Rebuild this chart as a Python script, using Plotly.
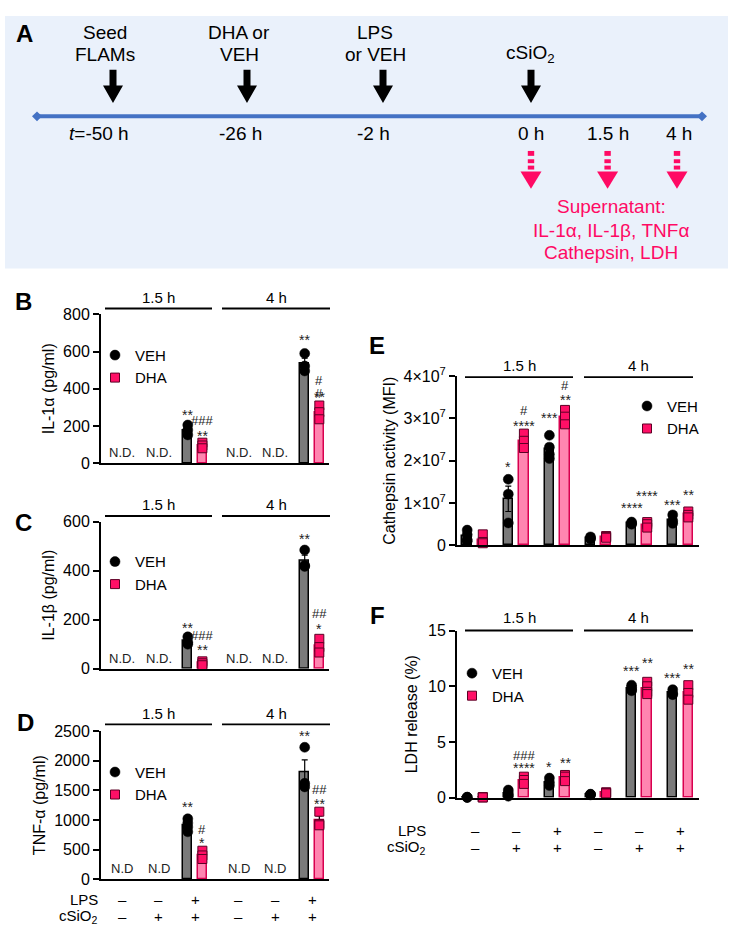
import plotly.graph_objects as go

W, H = 733, 938
FONT = "Arial, 'Liberation Sans', Helvetica, sans-serif"

# ---------------- data ----------------
lps_row = ["–", "–", "+", "–", "–", "+"]
csio2_row = ["–", "+", "+", "–", "+", "+"]
time_headers = ["1.5 h", "4 h"]

# Panel B: IL-1alpha (pg/ml); None = not detected
il1a_veh_mean = [None, None, 178, None, None, 536]
il1a_veh_sem = [None, None, 15, None, None, 28]
il1a_veh_pts = [[], [], [205, 178, 152], [], [], [590, 522, 496]]
il1a_dha_mean = [None, None, 95, None, None, 273]
il1a_dha_sem = [None, None, 9, None, None, 21]
il1a_dha_pts = [[], [], [110, 95, 80], [], [], [310, 274, 236]]
il1a_sig = [(2, "VEH", "**", 258), (2, "DHA", "###", 232), (2, "DHA", "**", 147),
            (5, "VEH", "**", 663), (5, "DHA", "#", 442), (5, "DHA", "#", 374),
            (5, "DHA", "**", 358)]

# Panel C: IL-1beta (pg/ml)
il1b_veh_mean = [None, None, 113, None, None, 442]
il1b_veh_sem = [None, None, 9, None, None, 22]
il1b_veh_pts = [[], [], [130, 108, 100], [], [], [485, 422, 418]]
il1b_dha_mean = [None, None, 22, None, None, 92]
il1b_dha_sem = [None, None, 5, None, None, 16]
il1b_dha_pts = [[], [], [30, 22, 14], [], [], [122, 88, 66]]
il1b_sig = [(2, "VEH", "**", 168), (2, "DHA", "###", 136), (2, "DHA", "**", 76),
            (5, "VEH", "**", 528), (5, "DHA", "##", 224), (5, "DHA", "*", 164)]

# Panel D: TNF-alpha (pg/ml)
tnf_veh_mean = [None, None, 912, None, None, 1803]
tnf_veh_sem = [None, None, 47, None, None, 214]
tnf_veh_pts = [[], [], [1020, 950, 880, 800], [], [], [2230, 1620, 1560]]
tnf_dha_mean = [None, None, 407, None, None, 993]
tnf_dha_sem = [None, None, 40, None, None, 74]
tnf_dha_pts = [[], [], [480, 400, 340], [], [], [1140, 930, 910]]
tnf_sig = [(2, "VEH", "**", 1225), (2, "DHA", "#", 844), (2, "DHA", "*", 612),
           (5, "VEH", "**", 2417), (5, "DHA", "##", 1523), (5, "DHA", "**", 1275)]

# Panel E: Cathepsin activity (MFI)
cath_veh_mean = [0.21e7, 1.10e7, 2.28e7, 0.17e7, 0.52e7, 0.60e7]
cath_veh_sem = [0.06e7, 0.30e7, 0.12e7, 0.02e7, 0.02e7, 0.06e7]
cath_veh_pts = [[0.36e7, 0.25e7, 0.13e7, 0.10e7], [1.56e7, 1.21e7, 0.53e7],
                [2.60e7, 2.32e7, 2.15e7, 2.05e7], [0.20e7, 0.17e7, 0.15e7],
                [0.55e7, 0.52e7, 0.50e7], [0.72e7, 0.58e7, 0.52e7]]
cath_dha_mean = [0.13e7, 2.47e7, 3.03e7, 0.20e7, 0.49e7, 0.73e7]
cath_dha_sem = [0.06e7, 0.10e7, 0.10e7, 0.02e7, 0.04e7, 0.04e7]
cath_dha_pts = [[0.26e7, 0.08e7, 0.05e7], [2.64e7, 2.47e7, 2.30e7],
                [3.20e7, 3.04e7, 2.86e7], [0.22e7, 0.20e7, 0.18e7],
                [0.55e7, 0.50e7, 0.42e7], [0.80e7, 0.72e7, 0.66e7]]
cath_sig = [(1, "VEH", "*", 1.85e7), (1, "DHA", "#", 3.19e7), (1, "DHA", "****", 2.83e7),
            (2, "VEH", "***", 3.02e7), (2, "DHA", "#", 3.78e7), (2, "DHA", "**", 3.43e7),
            (4, "VEH", "****", 0.88e7), (4, "DHA", "****", 1.16e7),
            (5, "VEH", "***", 0.96e7), (5, "DHA", "**", 1.19e7)]

# Panel F: LDH release (%)
ldh_veh_mean = [0.05, 0.40, 1.42, 0.30, 9.80, 9.43]
ldh_veh_sem = [0.01, 0.12, 0.20, 0.02, 0.10, 0.15]
ldh_veh_pts = [[0.06, 0.05, 0.04], [0.70, 0.45, 0.25, 0.15], [1.77, 1.39, 1.10],
               [0.33, 0.30, 0.27], [10.1, 9.9, 9.7, 9.6], [9.70, 9.35, 9.25]]
ldh_dha_mean = [0.05, 1.58, 1.82, 0.45, 9.80, 9.43]
ldh_dha_sem = [0.01, 0.18, 0.17, 0.03, 0.25, 0.38]
ldh_dha_pts = [[0.06, 0.05, 0.04], [1.90, 1.60, 1.25], [2.05, 1.90, 1.50],
               [0.50, 0.45, 0.40], [10.4, 10.0, 9.5, 9.3], [10.1, 9.4, 8.8]]
ldh_sig = [(1, "DHA", "###", 3.77), (1, "DHA", "****", 2.66), (2, "VEH", "*", 2.81),
           (2, "DHA", "**", 3.16), (4, "VEH", "***", 11.34), (4, "DHA", "**", 12.08),
           (5, "VEH", "***", 10.76), (5, "DHA", "**", 11.58)]

# Panel A: timeline text
event_labels = [["Seed", "FLAMs"], ["DHA or", "VEH"], ["LPS", "or VEH"], ["cSiO<sub>2</sub>"]]
time_labels = ["<i>t</i>=-50 h", "-26 h", "-2 h", "0 h", "1.5 h", "4 h"]
readout_lines = ["Supernatant:", "IL-1α, IL-1β, TNFα", "Cathepsin, LDH"]

# ---------------- styles / layout ----------------
VEH_BAR, VEH_LINE = "#7a7a7a", "#000000"
DHA_BAR, DHA_LINE = "#ff85b0", "#d8004f"
DHA_PT, DHA_PT_LINE = "#ff0f66", "#5c0025"
PINK = "#ff0a64"
BLUE = "#4472c4"


def px(x):
    return x / W


def py(y):
    return 1 - y / H


def P(x, y):
    return f"{px(x):.5f},{py(y):.5f}"


fig = go.Figure()
annotations = []
shapes = []


def ann(x, y, text, size, color="black", xref="paper", yref="paper",
        xanchor="center", yanchor="middle"):
    annotations.append(dict(x=x, y=y, xref=xref, yref=yref, text=text, showarrow=False,
                            xanchor=xanchor, yanchor=yanchor,
                            font=dict(size=size, color=color)))


pos_BCD = [0, 1, 2, 3.2, 4.2, 5.2]
pos_EF = [0, 1, 2, 3, 4, 5]

panels = [
    dict(ax="", leg="legend", pos=pos_BCD, off=0.2, w=0.24,
         vm=il1a_veh_mean, vs=il1a_veh_sem, vp=il1a_veh_pts,
         dm=il1a_dha_mean, ds=il1a_dha_sem, dp=il1a_dha_pts, sig=il1a_sig,
         nd="N.D.", nd_y=59),
    dict(ax="2", leg="legend2", pos=pos_BCD, off=0.2, w=0.24,
         vm=il1b_veh_mean, vs=il1b_veh_sem, vp=il1b_veh_pts,
         dm=il1b_dha_mean, ds=il1b_dha_sem, dp=il1b_dha_pts, sig=il1b_sig,
         nd="N.D.", nd_y=41),
    dict(ax="3", leg="legend3", pos=pos_BCD, off=0.2, w=0.24,
         vm=tnf_veh_mean, vs=tnf_veh_sem, vp=tnf_veh_pts,
         dm=tnf_dha_mean, ds=tnf_dha_sem, dp=tnf_dha_pts, sig=tnf_sig,
         nd="N.D", nd_y=182),
    dict(ax="4", leg="legend4", pos=pos_EF, off=0.19, w=0.23,
         vm=cath_veh_mean, vs=cath_veh_sem, vp=cath_veh_pts,
         dm=cath_dha_mean, ds=cath_dha_sem, dp=cath_dha_pts, sig=cath_sig,
         nd=None, nd_y=None),
    dict(ax="5", leg="legend5", pos=pos_EF, off=0.19, w=0.23,
         vm=ldh_veh_mean, vs=ldh_veh_sem, vp=ldh_veh_pts,
         dm=ldh_dha_mean, ds=ldh_dha_sem, dp=ldh_dha_pts, sig=ldh_sig,
         nd=None, nd_y=None),
]

for p in panels:
    xa, ya = "x" + p["ax"], "y" + p["ax"]
    pos, off = p["pos"], p["off"]
    for name, sign, mean, sem, bcol, lcol in [
        ("VEH", -1, p["vm"], p["vs"], VEH_BAR, VEH_LINE),
        ("DHA", 1, p["dm"], p["ds"], DHA_BAR, DHA_LINE),
    ]:
        bx = [pos[i] + sign * off for i in range(6) if mean[i] is not None]
        by = [mean[i] for i in range(6) if mean[i] is not None]
        be = [sem[i] for i in range(6) if mean[i] is not None]
        fig.add_trace(go.Bar(
            x=bx, y=by, width=p["w"], xaxis=xa, yaxis=ya, showlegend=False,
            marker=dict(color=bcol, line=dict(color=lcol, width=1.5)),
            error_y=dict(type="data", array=be, visible=True, color="black",
                         thickness=1.2, width=3),
            hoverinfo="skip"))
    for name, sign, pts in [("VEH", -1, p["vp"]), ("DHA", 1, p["dp"])]:
        sx, sy = [], []
        for i in range(6):
            for v in pts[i]:
                sx.append(pos[i] + sign * off)
                sy.append(v)
        if name == "VEH":
            mk = dict(symbol="circle", size=10, color="black",
                      line=dict(color="black", width=0.5))
        else:
            mk = dict(symbol="square", size=9, color=DHA_PT,
                      line=dict(color=DHA_PT_LINE, width=1))
        fig.add_trace(go.Scatter(
            x=sx, y=sy, mode="markers", name=name, marker=mk, xaxis=xa, yaxis=ya,
            legend=p["leg"], cliponaxis=False, showlegend=True))
    if p["nd"]:
        for i in range(6):
            if p["vm"][i] is None:
                ann(pos[i], p["nd_y"], p["nd"], 13, "#222", xa, ya)
    for g, ser, txt, yv in p["sig"]:
        ann(pos[g] + (-off if ser == "VEH" else off), yv, txt,
            13 if "#" in txt else 14, "#222", xa, ya)


# ---------------- axes ----------------
def xaxis_cfg(d0, d1, rng, anchor):
    return dict(domain=[px(d0), px(d1)], range=rng, anchor=anchor, showline=True,
                linecolor="black", linewidth=2, showticklabels=False, ticks="",
                showgrid=False, zeroline=False, fixedrange=True)


def yaxis_cfg(top, bot, rng, tickvals, ticktext, title, anchor, standoff):
    return dict(domain=[py(bot), py(top)], range=rng, anchor=anchor, showline=True,
                linecolor="black", linewidth=2, ticks="outside", ticklen=6,
                tickwidth=2, tickcolor="black", tickvals=tickvals, ticktext=ticktext,
                tickfont=dict(size=16, color="black"), showgrid=False, zeroline=False,
                title=dict(text=title, font=dict(size=16, color="black"),
                           standoff=standoff), fixedrange=True)


rBCD = [-0.575, 5.665]
rEF = [-0.438, 5.45]
layout_axes = dict(
    xaxis=xaxis_cfg(101, 329, rBCD, "y"),
    yaxis=yaxis_cfg(310, 462, [0, 800], [0, 200, 400, 600, 800], None,
                    "IL-1α (pg/ml)", "x", 4),
    xaxis2=xaxis_cfg(101, 329, rBCD, "y2"),
    yaxis2=yaxis_cfg(522, 672, [0, 600], [0, 200, 400, 600], None,
                     "IL-1β (pg/ml)", "x2", 4),
    xaxis3=xaxis_cfg(101, 329, rBCD, "y3"),
    yaxis3=yaxis_cfg(736, 887, [0, 2500], [0, 500, 1000, 1500, 2000, 2500], None,
                     "TNF-α (pg/ml)", "x3", 5),
    xaxis4=xaxis_cfg(457, 699, rEF, "y4"),
    yaxis4=yaxis_cfg(373, 546, [0, 4e7], [0, 1e7, 2e7, 3e7, 4e7],
                     ["0", "1×10<sup>7</sup>", "2×10<sup>7</sup>", "3×10<sup>7</sup>",
                      "4×10<sup>7</sup>"], "Cathepsin activity (MFI)", "x4", 4),
    xaxis5=xaxis_cfg(457, 699, rEF, "y5"),
    yaxis5=yaxis_cfg(633, 804, [0, 15], [0, 5, 10, 15], None,
                     "LDH release (%)", "x5", 6),
)

# ---------------- group headers ----------------
header_specs = [  # (line segments, line y, text y)
    ([(105, 212), (222, 330)], 304, 293),
    ([(105, 212), (222, 330)], 516, 504),
    ([(105, 212), (222, 330)], 729, 718),
    ([(465, 573), (584, 693)], 374, 362),
    ([(465, 573), (584, 693)], 633, 620),
]
for segs, ly, ty in header_specs:
    for (a, b), txt in zip(segs, time_headers):
        shapes.append(dict(type="line", xref="paper", yref="paper", x0=px(a), x1=px(b),
                           y0=py(ly), y1=py(ly), line=dict(color="black", width=1.8)))
        ann(px((a + b) / 2), py(ty), txt, 15)

# ---------------- treatment rows ----------------
for xa, pos, ly, cy, lx in [("x3", pos_BCD, 907.7, 925, 100),
                            ("x5", pos_EF, 837, 855, 428)]:
    ann(px(lx), py(ly), "LPS", 15, xanchor="right")
    ann(px(lx), py(cy), "cSiO<sub>2</sub>", 15, xanchor="right")
    for i in range(6):
        ann(pos[i], py(ly), lps_row[i], 15, xref=xa)
        ann(pos[i], py(cy), csio2_row[i], 15, xref=xa)

# ---------------- panel letters ----------------
for letter, (lx, ly) in zip("ABCDEF", [(24, 23), (23, 297), (23, 523), (25, 727),
                                       (377, 342), (377, 618)]):
    ann(px(lx), py(ly), f"<b>{letter}</b>", 24)

# ---------------- panel A schematic ----------------
shapes.append(dict(type="rect", xref="paper", yref="paper", x0=px(5), x1=px(728),
                   y0=py(263), y1=py(5), fillcolor="#eaf1fb", line=dict(width=0),
                   layer="below"))
shapes.append(dict(type="line", xref="paper", yref="paper", x0=px(37), x1=px(702),
                   y0=py(107.6), y1=py(107.6), line=dict(color=BLUE, width=4)))
for dx in (37, 702):
    shapes.append(dict(type="path", xref="paper", yref="paper",
                       path=f"M{P(dx - 5, 107.6)} L{P(dx, 102.6)} L{P(dx + 5, 107.6)} "
                            f"L{P(dx, 112.6)} Z",
                       fillcolor=BLUE, line=dict(width=0)))
event_x = [113, 247, 383, 531]
for ex, lines in zip(event_x, event_labels):
    shapes.append(dict(type="path", xref="paper", yref="paper",
                       path=f"M{P(ex - 3.5, 60)} L{P(ex + 3.5, 60)} L{P(ex + 3.5, 76)} "
                            f"L{P(ex + 10, 76)} L{P(ex, 94)} L{P(ex - 10, 76)} "
                            f"L{P(ex - 3.5, 76)} Z",
                       fillcolor="black", line=dict(width=0)))
    n = len(lines)
    for k, t in enumerate(lines):
        yy = 44 - (n - 1 - k) * 22.5
        ann(px(ex - 8 if n > 1 else ex - 1), py(yy), t, 19)
time_x = [99, 240.6, 373.6, 531, 607.6, 679]
for tx, t in zip(time_x, time_labels):
    ann(px(tx), py(125), t, 19)
for ax_ in (531, 607.6, 677):
    for y0, y1 in [(143, 148), (151.5, 155.5), (158, 162)]:
        shapes.append(dict(type="rect", xref="paper", yref="paper", x0=px(ax_ - 3.2),
                           x1=px(ax_ + 3.2), y0=py(y1), y1=py(y0), fillcolor=PINK,
                           line=dict(width=0)))
    shapes.append(dict(type="path", xref="paper", yref="paper",
                       path=f"M{P(ax_ - 10.5, 164)} L{P(ax_ + 10.5, 164)} L{P(ax_, 181.5)} Z",
                       fillcolor=PINK, line=dict(width=0)))
for yy, t in zip([200, 224, 247], readout_lines):
    ann(px(611), py(yy), t, 19, PINK)


# ---------------- legends ----------------
def leg(cx, top):
    return dict(x=px(cx - 20), y=py(top), xanchor="left", yanchor="top",
                bgcolor="rgba(0,0,0,0)", borderwidth=0, font=dict(size=15, color="black"),
                itemclick=False, itemdoubleclick=False, tracegroupgap=0)


fig.update_layout(
    width=W, height=H, autosize=False,
    margin=dict(l=0, r=0, t=0, b=0),
    paper_bgcolor="white", plot_bgcolor="rgba(0,0,0,0)",
    font=dict(family=FONT, color="black"),
    barmode="overlay", bargap=0,
    annotations=annotations, shapes=shapes,
    legend=leg(115, 335), legend2=leg(115, 546), legend3=leg(115, 761),
    legend4=leg(647, 387), legend5=leg(472, 660),
    **layout_axes,
)

fig.write_html(
    "out.html",
    config={"displayModeBar": False},
    post_script=("document.body.style.margin='0';"
                 "document.documentElement.style.overflow='hidden';"
                 "document.body.style.overflow='hidden';"),
)
